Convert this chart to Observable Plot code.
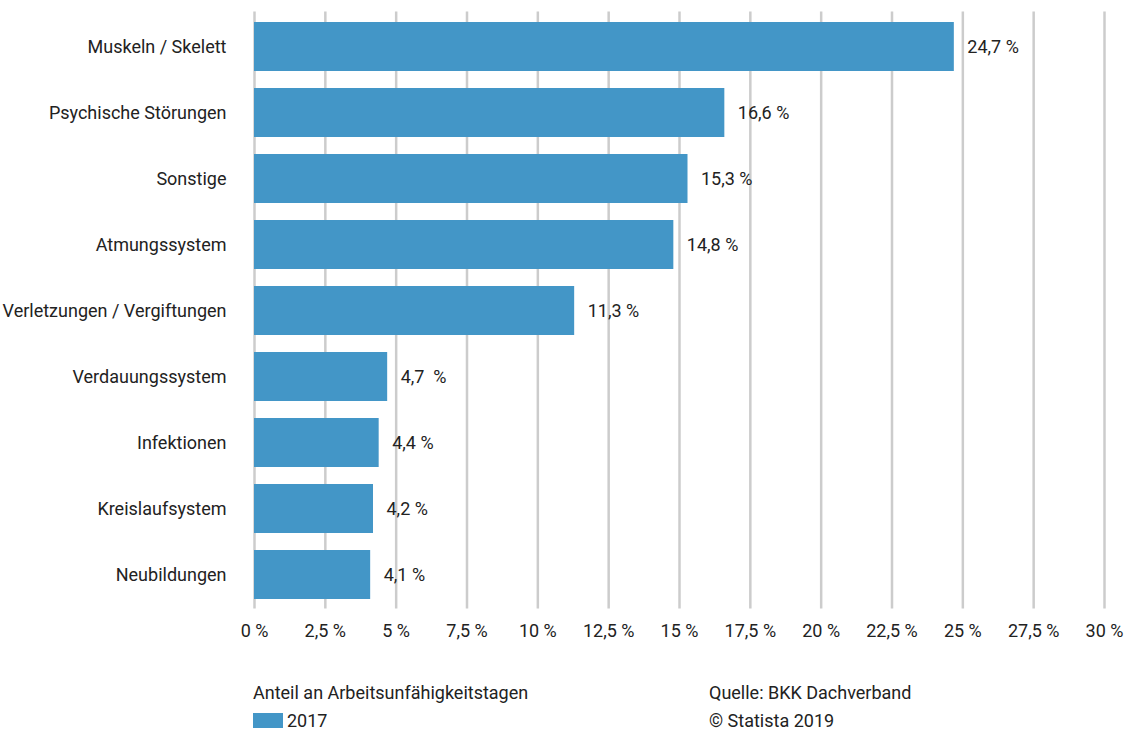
<!DOCTYPE html>
<html>
<head>
<meta charset="utf-8">
<script src="https://cdn.jsdelivr.net/npm/d3@7"></script>
<script src="https://cdn.jsdelivr.net/npm/@observablehq/plot@0.6"></script>
<style>
  html, body { margin: 0; padding: 0; background: #fff; overflow: hidden; }
  body { width: 1126px; height: 729px; position: relative; font-family: "Liberation Sans Narrow", "Roboto", sans-serif; color: #222; }
  #chart { position: absolute; left: 0; top: 0; }
  .foot { position: absolute; font-size: 18px; line-height: 28px; color: #222; }
  .sw { display: inline-block; width: 30px; height: 15px; background: #4396c7; vertical-align: -1px; margin-right: 4px; }
</style>
</head>
<body>
<div id="chart"></div>
<div class="foot" style="left:253px; top:679px;">
  <div id="legendTitle"></div>
  <div><span class="sw"></span><span id="legendYear"></span></div>
</div>
<div class="foot" style="left:709px; top:679px;">
  <div id="source"></div>
  <div id="copy"></div>
</div>
<script>
const categories = ["Muskeln / Skelett", "Psychische Störungen", "Sonstige", "Atmungssystem", "Verletzungen / Vergiftungen", "Verdauungssystem", "Infektionen", "Kreislaufsystem", "Neubildungen"];
const values = [24.7, 16.6, 15.3, 14.8, 11.3, 4.7, 4.4, 4.2, 4.1];
const valueLabels = ["24,7 %", "16,6 %", "15,3 %", "14,8 %", "11,3 %", "4,7  %", "4,4 %", "4,2 %", "4,1 %"];
const xTicks = [0, 2.5, 5, 7.5, 10, 12.5, 15, 17.5, 20, 22.5, 25, 27.5, 30];
const legendTitle = "Anteil an Arbeitsunfähigkeitstagen";
const seriesName = "2017";
const sourceText = "Quelle: BKK Dachverband";
const copyText = "© Statista 2019";

const data = categories.map((c, i) => ({category: c, value: values[i], label: valueLabels[i]}));
const fmt = d => String(d).replace(".", ",") + " %";

const chart = Plot.plot({
  width: 1126,
  height: 650,
  marginLeft: 254,
  marginRight: 22,
  marginTop: 2.5,
  marginBottom: 31.5,
  style: {fontFamily: '"Liberation Sans Narrow", "Roboto", sans-serif', fontSize: "18px", color: "#222", background: "#fff"},
  x: {domain: [0, 30], ticks: xTicks, tickFormat: fmt, tickSize: 0, tickPadding: 5, label: null},
  y: {domain: categories, padding: 0.263, tickSize: 0, tickPadding: 28, label: null},
  marks: [
    Plot.ruleX(xTicks, {x: d => d, stroke: "#cccccc", strokeWidth: 2.5, insetTop: 9, insetBottom: 10}),
    Plot.barX(data, {x: "value", y: "category", fill: "#4396c7"}),
    Plot.text(data, {x: "value", y: "category", text: "label", textAnchor: "start", dx: 13, fill: "#222", fontSize: 18})
  ]
});
document.getElementById("chart").appendChild(chart);
document.getElementById("legendTitle").textContent = legendTitle;
document.getElementById("legendYear").textContent = seriesName;
document.getElementById("source").textContent = sourceText;
document.getElementById("copy").textContent = copyText;
</script>
</body>
</html>
